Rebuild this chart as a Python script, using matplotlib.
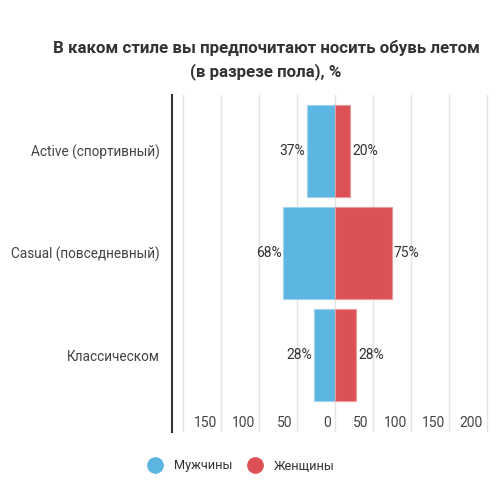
import matplotlib
matplotlib.use("Agg")
import matplotlib.pyplot as plt
from matplotlib.lines import Line2D
import matplotlib.transforms as mtransforms

plt.rcParams['font.family'] = ['Roboto', 'DejaVu Sans']

categories = ["Active (спортивный)", "Casual (повседневный)", "Классическом"]
men = [37, 68, 28]
women = [20, 75, 28]
tick_values = [-150, -100, -50, 0, 50, 100, 150, 200]
tick_labels = ["150", "100", "50", "0", "50", "100", "150", "200"]
grid_values = [-200, -150, -100, -50, 0, 50, 100, 150, 200]

blue = "#5db5e2"
red = "#dc5155"

fig = plt.figure(figsize=(5, 5), dpi=100)
ax = fig.add_axes([0.344, 0.136, 0.6376, 0.674])

y = list(range(len(categories)))
neg_men = [-v for v in men]
ax.barh(y, neg_men, height=0.9, color=blue, edgecolor="#9fd3ef", linewidth=0.8, zorder=3)
ax.barh(y, women, height=0.9, color=red, edgecolor="#ee9a9c", linewidth=0.8, zorder=3)

for yi, m, w in zip(y, men, women):
    ax.text(-m - 2.5, yi, f"{m}%", ha="right", va="center", fontsize=10, color="#333333")
    ax.text(w + 2.5, yi, f"{w}%", ha="left", va="center", fontsize=10, color="#333333")

for g in grid_values:
    ax.axvline(g, color="#e3e3e3", linewidth=1, zorder=1)

trans = mtransforms.blended_transform_factory(ax.transData, ax.transAxes)
offset = mtransforms.ScaledTranslation(-3 / 72, 0, fig.dpi_scale_trans)
for v, lab in zip(tick_values, tick_labels):
    ax.text(v, 0.027, lab, transform=trans + offset, ha="right", va="center",
            fontsize=10, color="#444444")

ax.set_xlim(-214.5, 205)
ax.set_ylim(2.755, -0.55)
ax.set_xticks([])
ax.set_yticks(y)
ax.set_yticklabels(categories, fontsize=9.8, color="#444444")
ax.tick_params(axis="y", length=0, pad=9)
for s in ["top", "right", "bottom"]:
    ax.spines[s].set_visible(False)
ax.spines["left"].set_color("#333333")
ax.spines["left"].set_linewidth(1.5)

fig.text(0.532, 0.904, "В каком стиле вы предпочитают носить обувь летом",
         ha="center", va="center", fontsize=12.2, fontweight="bold", color="#333333")
fig.text(0.532, 0.856, "(в разрезе пола), %",
         ha="center", va="center", fontsize=12.2, fontweight="bold", color="#333333")

handles = [
    Line2D([], [], marker="o", linestyle="none", markersize=11, color=blue),
    Line2D([], [], marker="o", linestyle="none", markersize=11, color=red),
]
fig.legend(handles, ["Мужчины", "Женщины"], loc="center", bbox_to_anchor=(0.477, 0.068),
           ncol=2, frameon=False, fontsize=9.2, handletextpad=0.5, columnspacing=0.7,
           labelcolor="#333333")

fig.savefig("out.png", dpi=100)
